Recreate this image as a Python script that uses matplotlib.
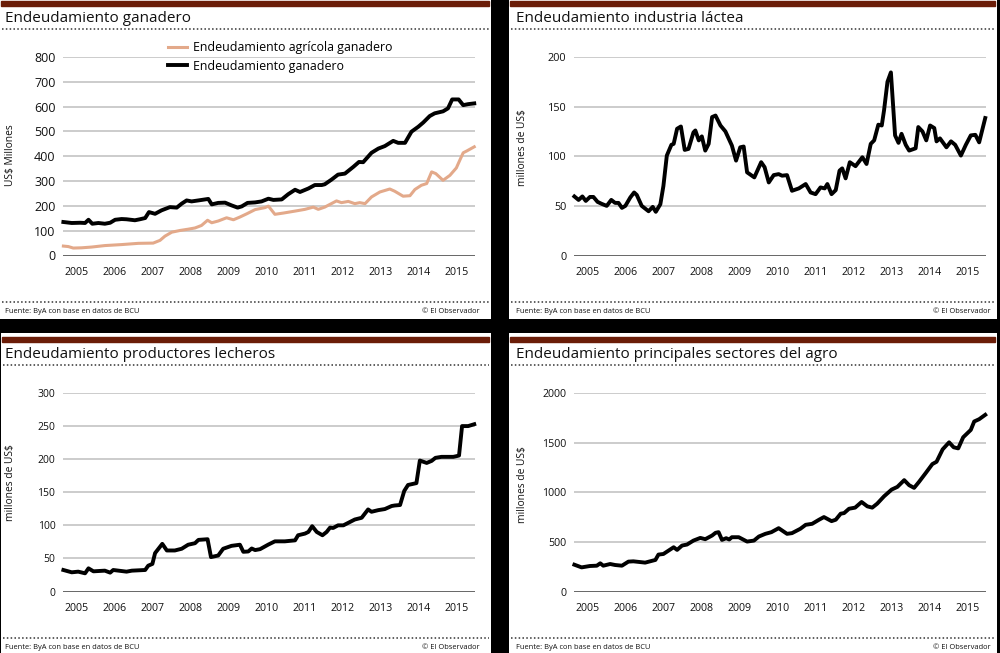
import matplotlib
matplotlib.use("Agg")
import matplotlib.pyplot as plt
from matplotlib.patches import Rectangle

W, H = 1000, 653
plt.rcParams['font.family'] = ['Open Sans', 'DejaVu Sans']

years = list(range(2005, 2016))

# Endeudamiento ganadero (US$ millones)
fechas_gan = [2004.65, 2004.87, 2005.09, 2005.22, 2005.31, 2005.41, 2005.57, 2005.74, 2005.88, 2006.01,
              2006.18, 2006.31, 2006.53, 2006.66, 2006.80, 2006.90, 2007.06, 2007.23, 2007.45, 2007.63,
              2007.76, 2007.89, 2008.02, 2008.20, 2008.46, 2008.55, 2008.72, 2008.90, 2009.07, 2009.23,
              2009.34, 2009.49, 2009.69, 2009.86, 2010.04, 2010.17, 2010.39, 2010.56, 2010.74, 2010.87,
              2011.09, 2011.26, 2011.44, 2011.52, 2011.70, 2011.87, 2012.05, 2012.27, 2012.42, 2012.53,
              2012.75, 2012.93, 2013.10, 2013.32, 2013.45, 2013.63, 2013.80, 2013.98, 2014.11, 2014.28,
              2014.41, 2014.63, 2014.76, 2014.87, 2015.04, 2015.16, 2015.29, 2015.45]
ganadero = [135, 131, 132, 131, 144, 128, 131, 128, 132, 144,
            147, 146, 142, 146, 151, 175, 168, 182, 195, 193,
            209, 222, 218, 222, 228, 206, 212, 213, 202, 193,
            198, 212, 214, 218, 229, 224, 226, 247, 265, 256,
            270, 284, 284, 287, 306, 326, 330, 357, 377, 376,
            414, 431, 441, 462, 454, 454, 499, 519, 536, 562,
            573, 581, 593, 629, 629, 606, 610, 613]

# Endeudamiento agricola ganadero
fechas_agr = [2004.65, 2004.78, 2004.91, 2005.13, 2005.39, 2005.74, 2006.18, 2006.62, 2007.01, 2007.19,
              2007.32, 2007.50, 2007.72, 2007.93, 2008.11, 2008.28, 2008.44, 2008.55, 2008.72, 2008.94,
              2009.12, 2009.29, 2009.47, 2009.69, 2009.95, 2010.04, 2010.21, 2010.43, 2010.74, 2011.00,
              2011.22, 2011.35, 2011.52, 2011.83, 2011.96, 2012.14, 2012.31, 2012.44, 2012.58, 2012.75,
              2012.97, 2013.23, 2013.36, 2013.58, 2013.76, 2013.89, 2014.06, 2014.20, 2014.33, 2014.44,
              2014.63, 2014.81, 2014.98, 2015.07, 2015.16, 2015.25, 2015.45]
agricola_ganadero = [38, 36, 30, 31, 34, 40, 44, 49, 50, 61,
                     78, 94, 101, 106, 111, 121, 142, 132, 139, 152,
                     144, 155, 168, 185, 193, 199, 166, 171, 179, 186,
                     195, 186, 195, 220, 213, 218, 209, 213, 209, 236,
                     256, 268, 259, 239, 241, 266, 283, 290, 337, 330,
                     303, 323, 353, 384, 414, 421, 438]

# Endeudamiento industria lactea
fechas_lac = [2004.65, 2004.76, 2004.86, 2004.95, 2005.06, 2005.15, 2005.26, 2005.37, 2005.50, 2005.62,
              2005.72, 2005.81, 2005.90, 2005.99, 2006.12, 2006.22, 2006.29, 2006.42, 2006.60, 2006.71,
              2006.79, 2006.91, 2006.99, 2007.08, 2007.20, 2007.26, 2007.35, 2007.45, 2007.55, 2007.65,
              2007.78, 2007.83, 2007.92, 2008.00, 2008.09, 2008.18, 2008.27, 2008.36, 2008.49, 2008.62,
              2008.79, 2008.90, 2009.01, 2009.10, 2009.19, 2009.38, 2009.56, 2009.65, 2009.76, 2009.89,
              2010.02, 2010.11, 2010.24, 2010.37, 2010.55, 2010.73, 2010.86, 2010.99, 2011.12, 2011.23,
              2011.30, 2011.41, 2011.52, 2011.62, 2011.69, 2011.78, 2011.89, 2012.04, 2012.22, 2012.33,
              2012.44, 2012.53, 2012.64, 2012.73, 2012.79, 2012.88, 2012.97, 2013.08, 2013.17, 2013.25,
              2013.36, 2013.45, 2013.62, 2013.69, 2013.80, 2013.90, 2014.00, 2014.11, 2014.17, 2014.26,
              2014.43, 2014.55, 2014.66, 2014.81, 2014.94, 2015.07, 2015.19, 2015.29, 2015.45]
lactea = [59.5, 56, 59.5, 55, 59, 59, 54, 52, 50, 56,
          53, 53, 48, 50, 58.5, 63.5, 61, 50, 44.6, 49,
          44, 51.7, 70, 100.7, 111.5, 112.5, 127.7, 130, 106.4, 107.4,
          124, 126, 116, 120, 105.7, 112.5, 139.5, 141, 131, 125,
          110.8, 95.6, 109, 109.8, 83.8, 78.7, 94, 89, 73.6, 81,
          82, 80.4, 81, 65.2, 67.6, 72, 63.5, 61.8, 68.6, 67.6,
          72, 61.8, 65.9, 85.5, 87.8, 77.7, 94, 90, 99, 92.2,
          112.5, 116, 131.8, 131, 146.3, 175, 184.5, 121, 113.5, 122.6,
          111.5, 105.7, 108, 129.4, 125, 116, 131, 128.4, 115, 118,
          109, 115, 111.5, 100.7, 111.5, 121, 121.6, 114, 138.5]

# Endeudamiento productores lecheros
fechas_lec = [2004.65, 2004.87, 2005.04, 2005.22, 2005.31, 2005.44, 2005.74, 2005.88, 2005.96, 2006.31,
              2006.45, 2006.80, 2006.88, 2006.99, 2007.06, 2007.25, 2007.37, 2007.58, 2007.76, 2007.93,
              2008.11, 2008.20, 2008.44, 2008.53, 2008.72, 2008.85, 2009.07, 2009.29, 2009.38, 2009.51,
              2009.60, 2009.69, 2009.82, 2010.04, 2010.21, 2010.47, 2010.74, 2010.82, 2011.00, 2011.09,
              2011.19, 2011.31, 2011.46, 2011.57, 2011.66, 2011.74, 2011.87, 2012.01, 2012.14, 2012.31,
              2012.49, 2012.66, 2012.75, 2012.93, 2013.10, 2013.28, 2013.36, 2013.50, 2013.61, 2013.71,
              2013.93, 2014.02, 2014.20, 2014.33, 2014.43, 2014.59, 2014.90, 2014.98, 2015.05, 2015.13,
              2015.29, 2015.45]
lecheros = [32.5, 29, 30, 27.5, 35, 30.5, 31.5, 28.5, 32.5, 30,
            31.5, 32.5, 39, 41.7, 58, 72, 62, 62, 64.6, 70.7,
            73, 78, 79, 52, 54.4, 64.6, 69, 70.7, 60, 60.5,
            65, 62.6, 64, 71, 75.8, 75.8, 77.3, 85, 87.5, 90,
            98.7, 90, 85, 90, 96.6, 96, 100, 100, 103.8, 108.8,
            111.4, 124, 120.5, 123, 124.6, 129.2, 130, 130.7, 152, 161,
            163.8, 197.9, 194.3, 197.4, 202, 203.5, 203.5, 204.5, 205.5, 250,
            250, 252.8]

# Endeudamiento principales sectores del agro
fechas_agro = [2004.65, 2004.84, 2005.06, 2005.24, 2005.33, 2005.41, 2005.59, 2005.72, 2005.90, 2006.07,
               2006.20, 2006.51, 2006.78, 2006.86, 2006.99, 2007.26, 2007.35, 2007.48, 2007.61, 2007.78,
               2007.96, 2008.09, 2008.27, 2008.36, 2008.44, 2008.53, 2008.64, 2008.72, 2008.79, 2008.97,
               2009.19, 2009.37, 2009.50, 2009.67, 2009.83, 2010.02, 2010.24, 2010.37, 2010.59, 2010.73,
               2010.90, 2011.08, 2011.21, 2011.41, 2011.52, 2011.65, 2011.74, 2011.87, 2012.03, 2012.20,
               2012.35, 2012.48, 2012.61, 2012.79, 2012.99, 2013.14, 2013.32, 2013.45, 2013.58, 2013.71,
               2013.89, 2014.06, 2014.17, 2014.33, 2014.50, 2014.62, 2014.74, 2014.87, 2015.07, 2015.16,
               2015.29, 2015.45]
agro = [270, 243, 257, 260, 284, 260, 277, 267, 260, 301,
        304, 291, 318, 372, 378, 446, 419, 463, 473, 513,
        540, 527, 564, 591, 598, 520, 537, 524, 547, 547,
        503, 513, 554, 581, 598, 638, 581, 588, 632, 672,
        682, 723, 750, 709, 723, 784, 790, 834, 845, 902,
        858, 845, 885, 959, 1027, 1054, 1122, 1071, 1044, 1105,
        1196, 1284, 1307, 1432, 1503, 1453, 1442, 1554, 1628, 1713,
        1736, 1780]

BROWN = '#6b1d08'
TAN = '#e3a98a'
TXT = '#111111'


def frac(x0, y0, x1, y1):
    return [x0 / W, 1 - y1 / H, (x1 - x0) / W, (y1 - y0) / H]


fig = plt.figure(figsize=(W / 100, H / 100), dpi=100, facecolor='black')


def make_panel(box, ox, oy, title, ylabel, ylab_y, yticks, ysize):
    # white card, drawn in pixel units relative to (ox, oy)
    bg = fig.add_axes(frac(*box))
    bg.set_xlim(box[0] - ox, box[2] - ox)
    bg.set_ylim(box[3] - oy, box[1] - oy)
    bg.set_axis_off()
    x0, x1 = box[0] - ox, box[2] - ox
    bg.add_patch(Rectangle((x0, box[1] - oy), x1 - x0, box[3] - box[1], color='white', zorder=0))
    bg.add_patch(Rectangle((x0 + 1, 0.5), x1 - x0 - 3, 5, color=BROWN, zorder=1))
    bg.text(5, 21.5, title, fontsize=11, color=TXT, va='baseline', ha='left')
    bg.plot([x0 + 2, x1 - 2], [29, 29], color='#333333', lw=1.1, ls=(0, (1, 1.5)))
    bg.plot([x0 + 2, x1 - 2], [301.5, 301.5], color='#333333', lw=1.1, ls=(0, (1, 1.5)))
    bg.text(5, 311.5, 'Fuente: ByA con base en datos de BCU', fontsize=5.4, color=TXT,
            va='center', ha='left')
    bg.text(480, 311.5, '\u00a9 El Observador', fontsize=5.4, color=TXT, va='center', ha='right')
    bg.text(11, ylab_y, ylabel, fontsize=7.4, color=TXT, rotation=90, va='center', ha='center')

    ax = fig.add_axes(frac(63 + ox, 57 + oy, 475 + ox, 255.5 + oy))
    ax.set_facecolor('none')
    ax.set_xlim(2004.64, 2015.47)
    ax.set_ylim(0, yticks[-1])
    ax.set_yticks(yticks)
    ax.set_yticklabels([str(t) for t in yticks], fontsize=ysize, color=TXT)
    ax.set_xticks(years)
    ax.set_xticklabels([str(y) for y in years], fontsize=7.7, color=TXT)
    ax.tick_params(length=0)
    ax.tick_params(axis='y', pad=5.5)
    ax.tick_params(axis='x', pad=8.2)
    for s in ax.spines.values():
        s.set_visible(False)
    ax.set_axisbelow(True)
    ax.grid(axis='y', color='#c8c8c8', lw=1.3)
    ax.axhline(0, color='#4a4a4a', lw=1.8, zorder=1)
    return ax


ax1 = make_panel((0, 0, 491, 319), 0, 0, 'Endeudamiento ganadero', 'US$ Millones', 155,
                 [0, 100, 200, 300, 400, 500, 600, 700, 800], 9)
ax1.plot(fechas_agr, agricola_ganadero, color=TAN, lw=2.2, solid_joinstyle='round',
         clip_on=False, label='Endeudamiento agr\u00edcola ganadero')
ax1.plot(fechas_gan, ganadero, color='black', lw=2.8, solid_joinstyle='round',
         clip_on=False, label='Endeudamiento ganadero')
ax1.legend(loc='upper left', bbox_to_anchor=(168 / W, 1 - 41 / H), bbox_transform=fig.transFigure,
           frameon=False, fontsize=8.9, borderpad=0, borderaxespad=0, handlelength=1.5,
           handletextpad=0.5, labelspacing=0.45)

ax2 = make_panel((509, 0, 997, 319), 511, 0, 'Endeudamiento industria l\u00e1ctea', 'millones de US$', 148,
                 [0, 50, 100, 150, 200], 7.8)
ax2.plot(fechas_lac, lactea, color='black', lw=2.8, solid_joinstyle='round', clip_on=False)

ax3 = make_panel((1, 333, 491, 653), 0, 336, 'Endeudamiento productores lecheros', 'millones de US$', 147,
                 [0, 50, 100, 150, 200, 250, 300], 7.5)
ax3.plot(fechas_lec, lecheros, color='black', lw=2.8, solid_joinstyle='round', clip_on=False)

ax4 = make_panel((509, 333, 997, 653), 511, 336, 'Endeudamiento principales sectores del agro',
                 'millones de US$', 149, [0, 500, 1000, 1500, 2000], 7.7)
ax4.plot(fechas_agro, agro, color='black', lw=2.8, solid_joinstyle='round', clip_on=False)

fig.savefig('out.png', dpi=100, facecolor='black')
